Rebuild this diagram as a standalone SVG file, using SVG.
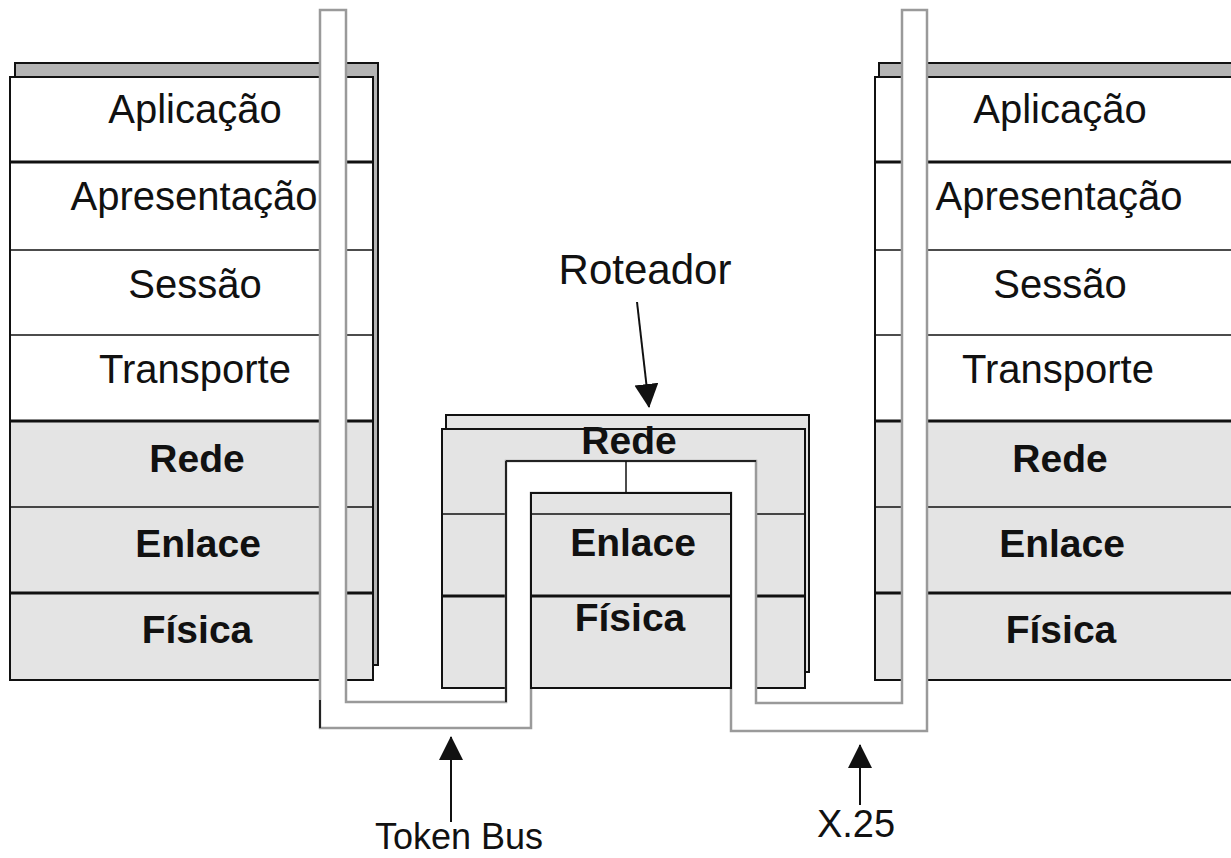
<svg xmlns="http://www.w3.org/2000/svg" width="1231" height="858" viewBox="0 0 1231 858">
<style>
.t{font-family:"Liberation Sans",Arial,sans-serif;font-size:40px;fill:#111;text-anchor:middle}
.b{font-family:"Liberation Sans",Arial,sans-serif;font-size:39px;font-weight:bold;fill:#111;text-anchor:middle}
.lbl{font-family:"Liberation Sans",Arial,sans-serif;fill:#111;text-anchor:middle}
.w{fill:#fff;stroke:#111;stroke-width:2}
.g{fill:#e4e4e4;stroke:#111;stroke-width:2}
.thin{stroke:#111;stroke-width:1.5}
.thick{stroke:#111;stroke-width:3}
.pipe{fill:#fff;stroke:#9a9a9a;stroke-width:2.5;stroke-linejoin:miter}
.edge{stroke:#222;stroke-width:2}
.arr{stroke:#111;stroke-width:2;fill:none}
</style>
<defs>
<marker id="ah" viewBox="0 0 24 26" refX="23" refY="12" markerWidth="24" markerHeight="26" markerUnits="userSpaceOnUse" orient="auto">
<path d="M0,0 L24,12 L0,24 Z" fill="#111"/>
</marker>
</defs>
<rect width="1231" height="858" fill="#fff"/>

<g id="left-stack">
<rect x="15" y="63" width="363" height="602" fill="#b4b4b4" stroke="#111" stroke-width="2"/>
<rect x="10" y="77" width="363" height="344" class="w"/>
<rect x="10" y="421" width="363" height="259" class="g"/>
<line x1="10" y1="162" x2="373" y2="162" class="thick"/>
<line x1="10" y1="250" x2="373" y2="250" class="thin"/>
<line x1="10" y1="335" x2="373" y2="335" class="thin"/>
<line x1="10" y1="421" x2="373" y2="421" class="thick"/>
<line x1="10" y1="507" x2="373" y2="507" class="thin"/>
<line x1="10" y1="593" x2="373" y2="593" class="thick"/>
<text x="195" y="123" class="t">Aplicação</text>
<text x="194" y="210" class="t">Apresentação</text>
<text x="195" y="298" class="t">Sessão</text>
<text x="195" y="383" class="t">Transporte</text>
<text x="197" y="472" class="b">Rede</text>
<text x="198" y="557" class="b">Enlace</text>
<text x="197" y="643" class="b">Física</text>
</g>

<g id="right-stack">
<rect x="879" y="63" width="400" height="602" fill="#b4b4b4" stroke="#111" stroke-width="2"/>
<rect x="875" y="77" width="400" height="344" class="w"/>
<rect x="875" y="421" width="400" height="259" class="g"/>
<line x1="875" y1="162" x2="1231" y2="162" class="thick"/>
<line x1="875" y1="250" x2="1231" y2="250" class="thin"/>
<line x1="875" y1="335" x2="1231" y2="335" class="thin"/>
<line x1="875" y1="421" x2="1231" y2="421" class="thick"/>
<line x1="875" y1="507" x2="1231" y2="507" class="thin"/>
<line x1="875" y1="593" x2="1231" y2="593" class="thick"/>
<text x="1060" y="123" class="t">Aplicação</text>
<text x="1059" y="210" class="t">Apresentação</text>
<text x="1060" y="298" class="t">Sessão</text>
<text x="1058" y="383" class="t">Transporte</text>
<text x="1060" y="472" class="b">Rede</text>
<text x="1062" y="557" class="b">Enlace</text>
<text x="1061" y="643" class="b">Física</text>
</g>

<g id="router">
<rect x="446" y="415" width="363" height="257" class="g"/>
<rect x="442" y="429" width="363" height="259" class="g"/>
<line x1="442" y1="514" x2="805" y2="514" class="thin"/>
<line x1="442" y1="596" x2="805" y2="596" class="thick"/>
</g>

<g id="connectors">
<path class="pipe" d="M320,10 H346 V702 H506 V461 H756 V703 H902 V10 H927 V731 H731 V493 H531 V728 H320 Z"/>
<line x1="320" y1="700" x2="320" y2="728" class="edge"/>
<line x1="506" y1="461" x2="506" y2="702" class="edge"/>
<line x1="506" y1="461" x2="756" y2="461" class="edge"/>
<rect x="531" y="493" width="200" height="195" class="g"/>
<line x1="531" y1="514" x2="731" y2="514" class="thin"/>
<line x1="531" y1="596" x2="731" y2="596" class="thick"/>
<line x1="626" y1="461" x2="626" y2="493" class="thin"/>
<line x1="637" y1="302" x2="649" y2="407" class="arr" marker-end="url(#ah)"/>
<line x1="451" y1="822" x2="451" y2="737" class="arr" marker-end="url(#ah)"/>
<line x1="860" y1="805" x2="860" y2="745" class="arr" marker-end="url(#ah)"/>
</g>

<g id="router-labels">
<text x="629" y="454" class="b">Rede</text>
<text x="633" y="556" class="b">Enlace</text>
<text x="630" y="631" class="b">Física</text>
</g>

<g id="labels">
<text x="645" y="284" class="lbl" font-size="42">Roteador</text>
<text x="459" y="849" class="lbl" font-size="36">Token Bus</text>
<text x="856" y="837" class="lbl" font-size="38">X.25</text>
</g>
</svg>
